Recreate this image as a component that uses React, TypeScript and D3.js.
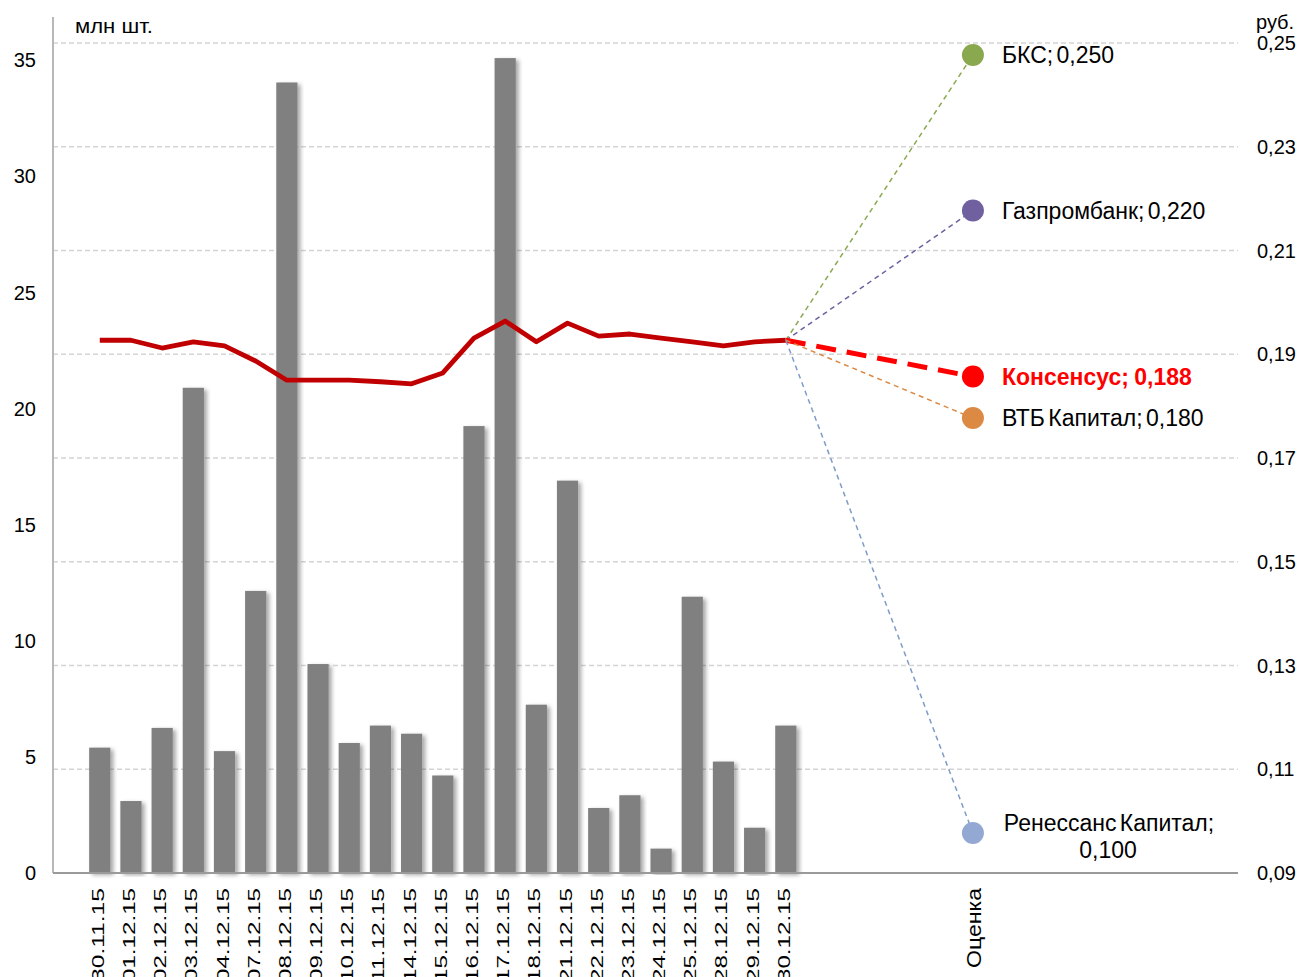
import * as d3 from 'd3';

const dates = [
  '30.11.15', '01.12.15', '02.12.15', '03.12.15', '04.12.15', '07.12.15', '08.12.15', '09.12.15',
  '10.12.15', '11.12.15', '14.12.15', '15.12.15', '16.12.15', '17.12.15', '18.12.15', '21.12.15',
  '22.12.15', '23.12.15', '24.12.15', '25.12.15', '28.12.15', '29.12.15', '30.12.15',
];

// объём торгов, млн шт.
const volumes = [
  5.4, 3.1, 6.25, 20.9, 5.25, 12.15, 34.05, 9.0, 5.6, 6.35, 6.0, 4.2, 19.25, 35.1, 7.25, 16.9,
  2.8, 3.35, 1.05, 11.9, 4.8, 1.95, 6.35,
];

// цена, руб.
const prices = [
  0.195, 0.195, 0.1935, 0.1947, 0.1939, 0.191, 0.1873, 0.1873, 0.1873, 0.187, 0.1866, 0.1887,
  0.1954, 0.1987, 0.1947, 0.1983, 0.1958, 0.1962, 0.1954, 0.1947, 0.1939, 0.1947, 0.195,
];

const estimateLabel = 'Оценка';
const brokers = ['БКС', 'Газпромбанк', 'Консенсус', 'ВТБ Капитал', 'Ренессанс Капитал'];
const targets = [0.25, 0.22, 0.188, 0.18, 0.1];
const brokerColors = ['#8aa94f', '#7060a0', '#ff0000', '#dc8943', '#93a9d4'];
const brokerLineColors = ['#8aa94f', '#7060a0', '#ff0000', '#dc8943', '#7f9bc8'];

const leftTicks = [0, 5, 10, 15, 20, 25, 30, 35];

const width = 1302;
const height = 977;
const plotLeft = 53;
const plotRight = 1238;
const plotBottom = 873;
const slotCount = 38;
const firstDateSlot = 1;
const estimateSlot = 29;

const font = '"Liberation Sans", Arial, sans-serif';

function fmt(v: number, digits: number) {
  return v.toFixed(digits).replace('.', ',');
}

export default function App() {
  const x = d3.scaleBand<number>().domain(d3.range(slotCount)).range([plotLeft, plotRight]).paddingInner(0.32).paddingOuter(0.16);
  const xc = (slot: number) => (x(slot) ?? 0) + x.bandwidth() / 2;

  const yLeft = d3.scaleLinear().domain([0, 35.75]).range([plotBottom, 43]);
  const rightMin = 0.0923;
  const yRight = d3.scaleLinear().domain([rightMin, rightMin + 0.16]).range([plotBottom, 43]);
  const rightTicks = d3.range(9).map((i) => rightMin + i * 0.02);

  const line = d3
    .line<number>()
    .x((_, i) => xc(firstDateSlot + i))
    .y((d) => yRight(d));

  const lastX = xc(firstDateSlot + dates.length - 1);
  const lastY = yRight(prices[prices.length - 1]);
  const estX = xc(estimateSlot);

  return (
    <svg width={width} height={height} style={{ position: 'absolute', left: 0, top: 0, background: '#fff' }} fontFamily={font}>
      <defs>
        <filter id="shadow" x="-30%" y="-5%" width="160%" height="110%">
          <feDropShadow dx="3" dy="2" stdDeviation="2" floodColor="#000" floodOpacity="0.35" />
        </filter>
      </defs>

      {/* сетка */}
      {rightTicks.slice(1).map((t) => (
        <line key={t} x1={plotLeft} x2={plotRight} y1={yRight(t)} y2={yRight(t)} stroke="#d4d4d4" strokeWidth={1.3} strokeDasharray="5,3" />
      ))}

      {/* столбцы */}
      {volumes.map((v, i) => (
        <rect
          key={i}
          x={x(firstDateSlot + i)}
          y={yLeft(v)}
          width={x.bandwidth()}
          height={plotBottom - yLeft(v)}
          fill="#808080"
          filter="url(#shadow)"
        />
      ))}

      {/* оси */}
      <line x1={plotLeft} x2={plotLeft} y1={17} y2={plotBottom} stroke="#b8b8b8" strokeWidth={2} />
      <line x1={plotLeft} x2={plotRight} y1={plotBottom} y2={plotBottom} stroke="#9a9a9a" strokeWidth={2} />

      {leftTicks.map((t) => (
        <text key={t} x={36} y={yLeft(t)} dy="0.35em" textAnchor="end" fontSize={20} fill="#000">
          {t}
        </text>
      ))}
      <text x={75} y={33} fontSize={21} textLength={78} lengthAdjust="spacingAndGlyphs">млн шт.</text>

      {rightTicks.map((t) => (
        <text key={t} x={1257} y={yRight(t)} dy="0.35em" fontSize={20} fill="#000">
          {fmt(t, 2)}
        </text>
      ))}
      <text x={1256} y={29} fontSize={20}>руб.</text>

      {dates.map((d, i) => (
        <text
          key={d}
          transform={`translate(${xc(firstDateSlot + i) + 4},${plotBottom + 15}) rotate(-90)`}
          textAnchor="end"
          fontSize={16.5}
          textLength={94}
          lengthAdjust="spacingAndGlyphs"
        >
          {d}
        </text>
      ))}
      <text
        transform={`translate(${estX + 8},${plotBottom + 15}) rotate(-90)`}
        textAnchor="end"
        fontSize={20}
        textLength={80}
        lengthAdjust="spacingAndGlyphs"
      >
        {estimateLabel}
      </text>

      {/* цена */}
      <path d={line(prices) ?? ''} fill="none" stroke="#c00000" strokeWidth={4.8} strokeLinejoin="round" />

      {/* прогнозы */}
      {brokers.map((b, i) => {
        const consensus = b === 'Консенсус';
        return (
          <line
            key={b}
            x1={lastX}
            y1={lastY}
            x2={estX}
            y2={yRight(targets[i])}
            stroke={brokerLineColors[i]}
            strokeWidth={consensus ? 5 : 1.5}
            strokeDasharray={consensus ? '20,11' : '5,4'}
          />
        );
      })}
      {brokers.map((b, i) => (
        <circle key={b} cx={estX} cy={yRight(targets[i])} r={11} fill={brokerColors[i]} />
      ))}
      {brokers.map((b, i) => {
        const y = yRight(targets[i]);
        const consensus = b === 'Консенсус';
        if (b === 'Ренессанс Капитал') {
          return (
            <text key={b} textAnchor="middle" fontSize={23} wordSpacing={-3}>
              <tspan x={1109} y={y - 2}>{'Ренессанс Капитал;'}</tspan>
              <tspan x={1108} y={y + 25}>{fmt(targets[i], 3)}</tspan>
            </text>
          );
        }
        return (
          <text
            key={b}
            x={estX + 29}
            y={y}
            dy="0.35em"
            fontSize={23}
            wordSpacing={consensus ? -1 : -3}
            fontWeight={consensus ? 'bold' : 'normal'}
            fill={consensus ? '#ff0000' : '#000'}
          >
            {`${b}; ${fmt(targets[i], 3)}`}
          </text>
        );
      })}
    </svg>
  );
}
